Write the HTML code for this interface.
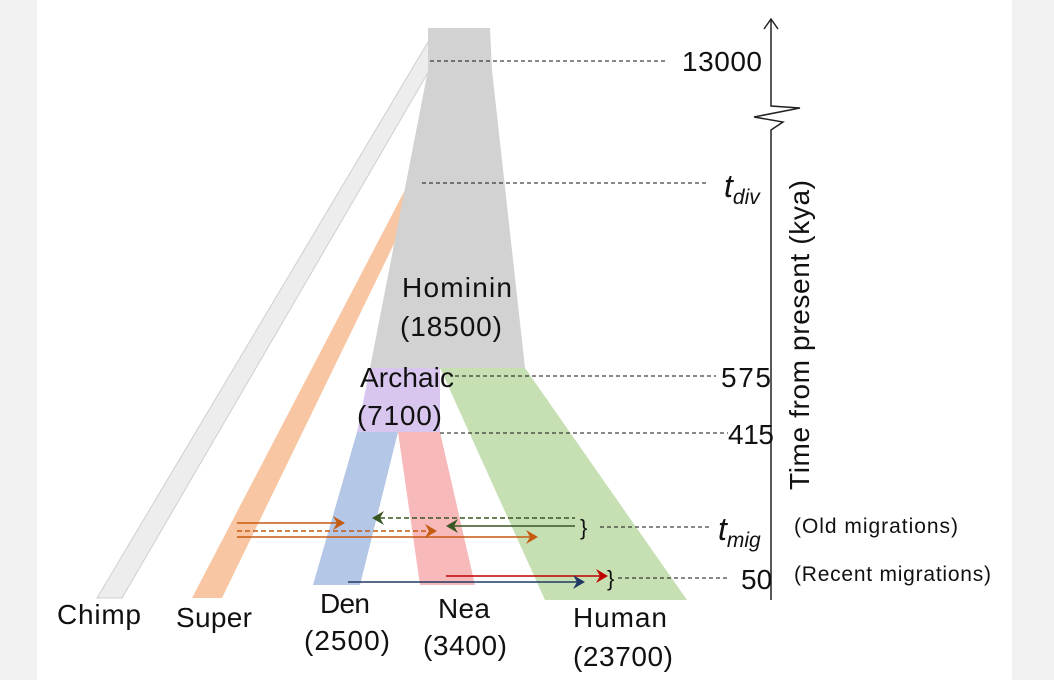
<!DOCTYPE html>
<html><head><style>
body{margin:0;width:1054px;height:680px;background:#f2f2f2;overflow:hidden}
svg{position:absolute;left:0;top:0}
text{font-family:"Liberation Sans",sans-serif;fill:#111}
</style></head><body>
<svg width="1054" height="680" viewBox="0 0 1054 680">
<rect x="37" y="0" width="975" height="680" fill="#fff"/>
<polygon points="428,42 440,52 122,598 97,598" fill="#ededed" stroke="#cfcfcf" stroke-width="1"/>
<polygon points="418,165 426,178 222,598 192,598" fill="#f8c6a2"/>
<polygon points="428,28 490,28 492,70 525,368 370,368 428,70" fill="#d2d2d2"/>
<polygon points="440,368 525,368 687,600 545,600" fill="#c6e0b4"/>
<polygon points="370,368 440,368 440,432 357,432" fill="#d9c6ef"/>
<polygon points="357,432 398,432 360,585 313,585" fill="#b4c7e7"/>
<polygon points="398,432 440,432 475,585 420,585" fill="#f7b9b9"/>
<g stroke="#111" stroke-width="1" stroke-dasharray="4,3" fill="none">
<line x1="430" y1="61" x2="668" y2="61"/>
<line x1="422" y1="183" x2="708" y2="183"/>
<line x1="455" y1="376" x2="716" y2="376"/>
<line x1="440" y1="433" x2="728" y2="433"/>
<line x1="600" y1="527" x2="710" y2="527"/>
<line x1="618" y1="578" x2="730" y2="578"/>
</g>
<g stroke="#222" stroke-width="1.5" fill="none">
<path d="M771,20 L771,106 L800,108 L754,117 L783,122 L771,130 L771,600"/>
<path d="M764,29 L771,19 L778,29"/>
</g>
<g stroke-width="1.6" fill="none">
<line x1="237" y1="523" x2="340" y2="523" stroke="#c55a11"/>
<line x1="237" y1="531" x2="432" y2="531" stroke="#c55a11" stroke-dasharray="5,3"/>
<line x1="237" y1="537" x2="533" y2="537" stroke="#c55a11"/>
<line x1="380" y1="518" x2="575" y2="518" stroke="#385723" stroke-dasharray="5,3"/>
<line x1="450" y1="526" x2="575" y2="526" stroke="#385723"/>
<line x1="348" y1="582" x2="580" y2="582" stroke="#203864"/>
<line x1="446" y1="576" x2="605" y2="576" stroke="#c00000"/>
</g>
<g>
<polygon points="345,523 333,516 337,523 333,530" fill="#c55a11"/>
<polygon points="437,531 425,524 429,531 425,538" fill="#c55a11"/>
<polygon points="538,537 526,530 530,537 526,544" fill="#c55a11"/>
<polygon points="372,518 384,511 380,518 384,525" fill="#385723"/>
<polygon points="446,526 458,519 454,526 458,533" fill="#385723"/>
<polygon points="585,582 573,575 577,582 573,589" fill="#203864"/>
<polygon points="608,576 596,569 600,576 596,583" fill="#c00000"/>
</g>
<text x="580" y="535" font-size="22">}</text>
<text x="607" y="586" font-size="22">}</text>
<g font-size="28">
<text x="682" y="71" textLength="80">13000</text>
<text x="721" y="387" textLength="50">575</text>
<text x="728" y="444" textLength="46">415</text>
<text x="741" y="589">50</text>
<text x="402" y="297" textLength="110">Hominin</text>
<text x="400" y="336" textLength="102">(18500)</text>
<text x="360" y="387" textLength="94">Archaic</text>
<text x="357" y="425" textLength="85">(7100)</text>
<text x="57" y="624" textLength="84">Chimp</text>
<text x="176" y="627" textLength="76">Super</text>
<text x="320" y="613" textLength="50">Den</text>
<text x="304" y="650" textLength="86">(2500)</text>
<text x="438" y="618" textLength="52">Nea</text>
<text x="423" y="655" textLength="84">(3400)</text>
<text x="573" y="627" textLength="94">Human</text>
<text x="573" y="666" textLength="100">(23700)</text>
</g>
<text x="724" y="197" font-size="32" font-style="italic">t<tspan font-size="21" dy="7">div</tspan></text>
<text x="718" y="540" font-size="32" font-style="italic">t<tspan font-size="21" dy="7">mig</tspan></text>
<text x="794" y="533" font-size="21" textLength="164">(Old migrations)</text>
<text x="794" y="581" font-size="21" textLength="197">(Recent migrations)</text>
<text transform="translate(809,490) rotate(-90)" font-size="28" textLength="310">Time from present (kya)</text>
</svg>
</body></html>
